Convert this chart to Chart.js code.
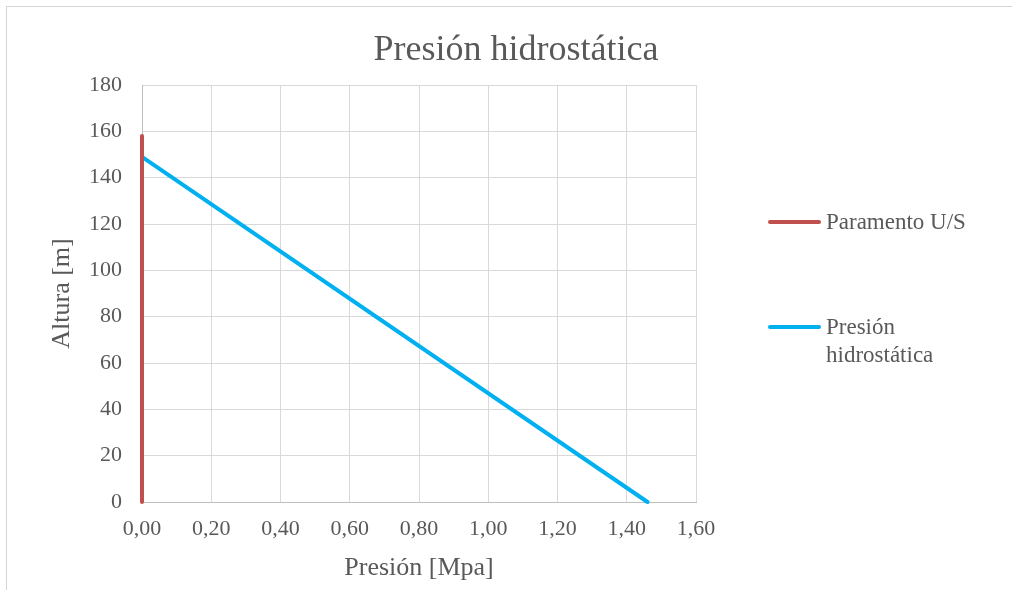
<!DOCTYPE html>
<html>
<head>
<meta charset="utf-8">
<script src="https://cdn.jsdelivr.net/npm/chart.js@4"></script>
<style>
  html, body { margin: 0; padding: 0; background: #fff; }
  #wrap { position: relative; width: 1012px; height: 590px; overflow: hidden; font-family: "Liberation Serif", "Times New Roman", serif; color: #595959; }
  #frame { position: absolute; left: 6px; top: 6px; right: -2px; bottom: -2px; border-left: 1px solid #d4d4d4; border-top: 1px solid #d4d4d4; }
  #chart { position: absolute; left: 0; top: 0; }
  #title { position: absolute; left: 0; width: 1032px; top: 26px; text-align: center; font-size: 36px; line-height: 44px; }
  .leg { position: absolute; left: 768px; font-size: 23px; line-height: 28px; }
  .leg .sw { position: absolute; left: 0; width: 53px; height: 4px; border-radius: 2px; }
  .leg .tx { position: absolute; left: 58px; white-space: nowrap; }
</style>
</head>
<body>
<div id="wrap">
  <div id="frame"></div>
  <canvas id="chart" width="1012" height="590"></canvas>
  <div id="title">Presión hidrostática</div>
  <div class="leg" style="top:208px"><span class="sw" style="top:12px;background:#C0504D"></span><span class="tx">Paramento U/S</span></div>
  <div class="leg" style="top:313px"><span class="sw" style="top:12px;background:#00B0F0"></span><span class="tx">Presión<br>hidrostática</span></div>
</div>
<script>
// datos
var paramentoX = [0, 0];
var paramentoY = [0, 158];
var presionX = [0, 1.46];
var presionY = [149, 0];
var xTicks = [0, 0.2, 0.4, 0.6, 0.8, 1.0, 1.2, 1.4, 1.6];
var yTicks = [0, 20, 40, 60, 80, 100, 120, 140, 160, 180];

var toPoints = function(xs, ys) {
  return xs.map(function(x, i) { return {x: x, y: ys[i]}; });
};

var gris = '#595959';
var fuente = "'Liberation Serif', 'Times New Roman', serif";

new Chart(document.getElementById('chart'), {
  type: 'scatter',
  data: {
    datasets: [
      {
        label: 'Paramento U/S',
        data: toPoints(paramentoX, paramentoY),
        showLine: true,
        borderColor: '#C0504D',
        backgroundColor: '#C0504D',
        borderWidth: 4,
        borderCapStyle: 'round',
        pointRadius: 0,
        clip: false
      },
      {
        label: 'Presión hidrostática',
        data: toPoints(presionX, presionY),
        showLine: true,
        borderColor: '#00B0F0',
        backgroundColor: '#00B0F0',
        borderWidth: 4,
        borderCapStyle: 'round',
        pointRadius: 0,
        clip: false
      }
    ]
  },
  options: {
    responsive: false,
    animation: false,
    layout: { padding: { top: 85, right: 316, left: 0, bottom: 0 } },
    plugins: {
      legend: { display: false },
      title: { display: false },
      tooltip: { enabled: false }
    },
    scales: {
      x: {
        type: 'linear',
        min: xTicks[0],
        max: xTicks[xTicks.length - 1],
        afterFit: function(s) { s.height = 88; },
        afterBuildTicks: function(s) { s.ticks = xTicks.map(function(v) { return {value: v}; }); },
        grid: { color: '#d9d9d9', drawTicks: false },
        border: { color: '#bfbfbf' },
        ticks: {
          padding: 14,
          color: gris,
          font: { family: fuente, size: 22 },
          callback: function(v) { return Number(v).toFixed(2).replace('.', ','); }
        },
        title: {
          display: true,
          text: 'Presión [Mpa]',
          color: gris,
          font: { family: fuente, size: 26 },
          padding: { top: 0, bottom: 6 }
        }
      },
      y: {
        type: 'linear',
        min: yTicks[0],
        max: yTicks[yTicks.length - 1],
        afterFit: function(s) { s.width = 142; },
        afterBuildTicks: function(s) { s.ticks = yTicks.map(function(v) { return {value: v}; }); },
        grid: { color: '#d9d9d9', drawTicks: false },
        border: { color: '#bfbfbf' },
        ticks: {
          padding: 20,
          color: gris,
          font: { family: fuente, size: 22 }
        },
        title: {
          display: true,
          text: 'Altura [m]',
          color: gris,
          font: { family: fuente, size: 26 },
          padding: { top: 47, bottom: 0 }
        }
      }
    }
  }
});
</script>
</body>
</html>
